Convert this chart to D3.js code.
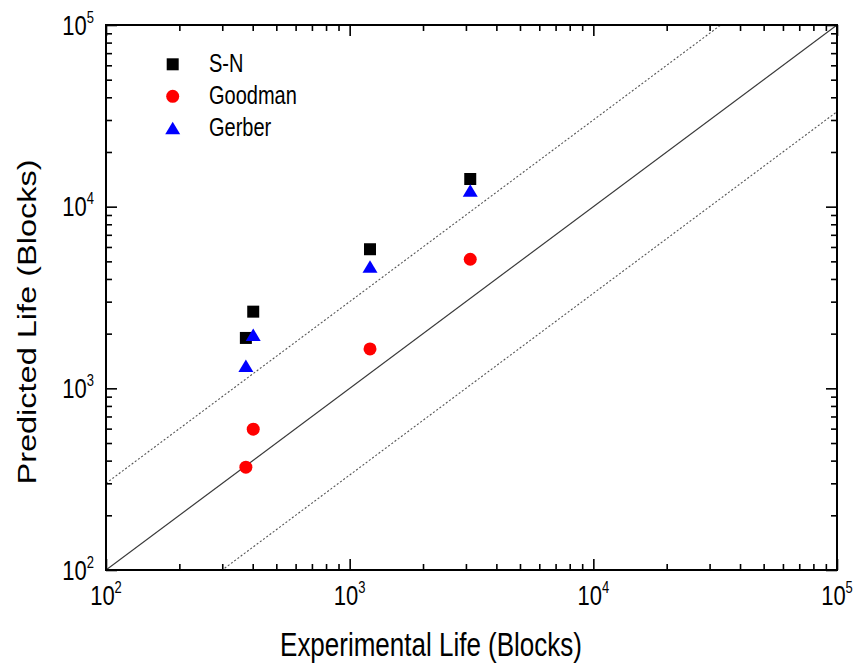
<!DOCTYPE html>
<html>
<head>
<meta charset="utf-8">
<script src="https://cdn.jsdelivr.net/npm/d3@7"></script>
<style>
  html, body { margin: 0; padding: 0; background: #fff; }
  svg { display: block; }
  text { font-family: "Liberation Sans", Arial, sans-serif; fill: #000; }
</style>
</head>
<body>
<svg id="chart" width="860" height="666"></svg>
<script>
// Experimental vs predicted fatigue life, log-log
const experimentalLife = [375, 402, 1212, 3125];
const snPredicted      = [1894, 2643, 5830, 14200];
const goodmanPredicted = [368, 596, 1648, 5134];
const gerberPredicted  = [1328, 1967, 4674, 12220];

const seriesNames  = ["S-N", "Goodman", "Gerber"];
const seriesColors = ["#000000", "#ff0000", "#0000ff"];
const seriesShapes = ["square", "circle", "triangle"];

const decadeExponents = [2, 3, 4, 5];
const bandFactors = [3, 1 / 3];   // dotted ±factor-of-3 band around the 1:1 line

const xTitle = "Experimental Life (Blocks)";
const yTitle = "Predicted Life (Blocks)";

const svg = d3.select("#chart");
const margin = { left: 106, right: 23, top: 25, bottom: 96 };
const W = 860, H = 666;
const x0 = margin.left, x1 = W - margin.right;
const y0 = H - margin.bottom, y1 = margin.top;
const VS = 1.25; // vertical text stretch

const x = d3.scaleLog().domain([1e2, 1e5]).range([x0, x1]);
const y = d3.scaleLog().domain([1e2, 1e5]).range([y0, y1]);

svg.append("rect").attr("width", W).attr("height", H).attr("fill", "#fff");

// reference lines
const clip = svg.append("defs").append("clipPath").attr("id", "plotclip")
  .append("rect").attr("x", x0).attr("y", y1).attr("width", x1 - x0).attr("height", y0 - y1);
const lines = svg.append("g").attr("clip-path", "url(#plotclip)");
const lineGen = f => d3.line()(
  [1e2, 1e5].map(v => [x(v), y(v * f)])
);
lines.append("path").attr("d", lineGen(1))
  .attr("stroke", "#3a3a3a").attr("stroke-width", 1.2).attr("fill", "none");
bandFactors.forEach(f => {
  lines.append("path").attr("d", lineGen(f))
    .attr("stroke", "#555").attr("stroke-width", 1.1)
    .attr("stroke-dasharray", "2,2").attr("fill", "none");
});

// marker paths
function markerPath(shape) {
  if (shape === "square") return "M-6,-6H6V6H-6Z";
  if (shape === "circle") return d3.symbol(d3.symbolCircle, Math.PI * 6.5 * 6.5)();
  return "M0,-6.5L7.5,6L-7.5,6Z";
}

const seriesValues = [snPredicted, goodmanPredicted, gerberPredicted];
const pts = svg.append("g");
// Goodman drawn first, then S-N, then Gerber on top
[1, 0, 2].forEach(si => {
  pts.selectAll(null).data(experimentalLife.map((e, i) => [e, seriesValues[si][i]]))
    .enter().append("path")
    .attr("d", markerPath(seriesShapes[si]))
    .attr("transform", d => `translate(${x(d[0])},${y(d[1])})`)
    .attr("fill", seriesColors[si]);
});

// axes with inward ticks on all four sides
const majorTicks = decadeExponents.map(e => Math.pow(10, e));
const minorTicks = [];
decadeExponents.slice(0, -1).forEach(e => {
  for (let k = 2; k <= 9; k++) minorTicks.push(k * Math.pow(10, e));
});

function drawAxis(axisFn, scale, transform) {
  svg.append("g").attr("transform", transform)
    .call(axisFn(scale).tickValues(minorTicks).tickSize(-6).tickFormat(""))
    .call(g => g.select(".domain").remove())
    .call(g => g.selectAll("line").attr("stroke", "#000").attr("stroke-width", 1.6));
  svg.append("g").attr("transform", transform)
    .call(axisFn(scale).tickValues(majorTicks).tickSize(-11).tickFormat(""))
    .call(g => g.select(".domain").remove())
    .call(g => g.selectAll("line").attr("stroke", "#000").attr("stroke-width", 1.6));
}
drawAxis(d3.axisBottom, x, `translate(0,${y0})`);
drawAxis(d3.axisTop, x, `translate(0,${y1})`);
drawAxis(d3.axisLeft, y, `translate(${x0},0)`);
drawAxis(d3.axisRight, y, `translate(${x1},0)`);

svg.append("rect").attr("x", x0).attr("y", y1)
  .attr("width", x1 - x0).attr("height", y0 - y1)
  .attr("fill", "none").attr("stroke", "#000").attr("stroke-width", 2);

// stretched text helper
function label(px, py, anchor, size, extra) {
  const g = svg.append("g").attr("transform", `translate(${px},${py}) scale(1,${VS})${extra || ""}`);
  return g.append("text").attr("text-anchor", anchor).attr("font-size", size);
}
function powerLabel(t, e) {
  t.append("tspan").text("10");
  t.append("tspan").attr("font-size", 13).attr("dy", -9.5).text(String(e));
}

decadeExponents.forEach(e => {
  powerLabel(label(x(Math.pow(10, e)), 605, "middle", 22), e);
  powerLabel(label(94, y(Math.pow(10, e)) + 9.5, "end", 22), e);
});

label(431, 656, "middle", 26).text(xTitle);
label(36, 322, "middle", 26, " rotate(-90)").text(yTitle);

// legend
seriesNames.forEach((name, i) => {
  const ly = 64.3 + i * 32;
  svg.append("path").attr("d", markerPath(seriesShapes[i]))
    .attr("transform", `translate(172.7,${ly})`)
    .attr("fill", seriesColors[i]);
  label(209, ly + 7.5, "start", 20).text(name);
});
</script>
</body>
</html>
